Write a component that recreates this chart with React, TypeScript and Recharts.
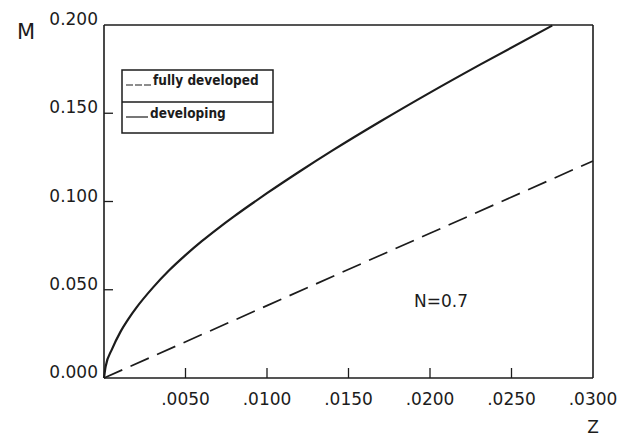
import { LineChart, Line, XAxis, YAxis, ReferenceLine, Customized } from "recharts";

// z / M pairs
const developing = [
  { z: 0, m: 0 },
  { z: 0.0001, m: 0.0065 },
  { z: 0.0005, m: 0.0165 },
  { z: 0.001, m: 0.026 },
  { z: 0.0015, m: 0.0335 },
  { z: 0.002, m: 0.04 },
  { z: 0.003, m: 0.0512 },
  { z: 0.004, m: 0.061 },
  { z: 0.005, m: 0.0696 },
  { z: 0.006, m: 0.0775 },
  { z: 0.007, m: 0.0848 },
  { z: 0.008, m: 0.0917 },
  { z: 0.009, m: 0.0983 },
  { z: 0.01, m: 0.1047 },
  { z: 0.012, m: 0.117 },
  { z: 0.014, m: 0.1288 },
  { z: 0.017, m: 0.1456 },
  { z: 0.02, m: 0.1617 },
  { z: 0.0231, m: 0.1777 },
  { z: 0.0275, m: 0.1997 },
];

const fullyDeveloped = [
  { z: 0, m: 0 },
  { z: 0.01, m: 0.041 },
  { z: 0.02, m: 0.082 },
  { z: 0.03, m: 0.123 },
];

const xTicks = [0.005, 0.01, 0.015, 0.02, 0.025, 0.03];
const yTicks = [0, 0.05, 0.1, 0.15, 0.2];
const legendItems = ["fully developed", "developing"];

const INK = "#1c1c1c";
const FONT = "'DejaVu Sans', sans-serif";

const YTick = ({ x, y, payload }: any) => {
  const v = payload.value;
  const inner = v > 0 && v < 0.2;
  return (
    <g>
      {inner && <line x1={x} x2={x + 9} y1={y} y2={y} stroke={INK} strokeWidth={1.3} />}
      <text x={x - 6} y={y - 5} textAnchor="end" dominantBaseline="middle" fontSize={17} fill={INK} fontFamily={FONT}>
        {v.toFixed(3)}
      </text>
    </g>
  );
};

const XTick = ({ x, y, payload }: any) => {
  const v = payload.value;
  const inner = v < 0.03;
  return (
    <g>
      {inner && <line x1={x} x2={x} y1={y} y2={y - 10} stroke={INK} strokeWidth={1.3} />}
      <text x={x} y={y + 22} textAnchor="middle" dominantBaseline="middle" fontSize={17} fill={INK} fontFamily={FONT}>
        {v.toFixed(4).replace(/^0/, "")}
      </text>
    </g>
  );
};

// legend box + free text labels, drawn in the chart svg
const Overlay = () => (
  <g>
    <rect x={122} y={70} width={151} height={63} fill="#fff" stroke={INK} strokeWidth={1.5} />
    <line x1={122} x2={273} y1={102} y2={102} stroke={INK} strokeWidth={1.5} />
    <line x1={126} x2={152} y1={85} y2={85} stroke={INK} strokeWidth={1.2} strokeDasharray="7 2" />
    <line x1={126} x2={148} y1={117} y2={117} stroke={INK} strokeWidth={1.2} />
    <text x={153} y={81} dominantBaseline="middle" fill={INK} fontSize={13.5} fontWeight="bold" fontFamily="'DejaVu Sans Condensed', sans-serif">
      {legendItems[0]}
    </text>
    <text x={150} y={114} dominantBaseline="middle" fill={INK} fontSize={13.5} fontWeight="bold" fontFamily="'DejaVu Sans Condensed', sans-serif">
      {legendItems[1]}
    </text>
    <text x={26} y={33} textAnchor="middle" dominantBaseline="middle" fill={INK} fontSize={21} fontFamily={FONT}>
      M
    </text>
    <text x={593} y={428} textAnchor="middle" dominantBaseline="middle" fill={INK} fontSize={17} fontFamily={FONT}>
      Z
    </text>
    <text x={441} y={302} textAnchor="middle" dominantBaseline="middle" fill={INK} fontSize={17} fontFamily={FONT}>
      N=0.7
    </text>
  </g>
);

export default function App() {
  return (
    <div style={{ position: "absolute", left: 0, top: 0, background: "#fff" }}>
      <LineChart width={628} height={438} margin={{ top: 25, right: 35, bottom: 30, left: 8 }}>
        <XAxis
          dataKey="z"
          type="number"
          domain={[0, 0.03]}
          ticks={xTicks}
          tick={<XTick />}
          tickLine={false}
          tickSize={0}
          tickMargin={0}
          height={30}
          axisLine={{ stroke: INK, strokeWidth: 1.6 }}
          allowDuplicatedCategory={false}
        />
        <YAxis
          type="number"
          domain={[0, 0.2]}
          ticks={yTicks}
          tick={<YTick />}
          tickLine={false}
          tickSize={0}
          tickMargin={0}
          width={96}
          axisLine={{ stroke: INK, strokeWidth: 1.6 }}
        />
        <ReferenceLine y={0.2} stroke={INK} strokeWidth={1.4} />
        <ReferenceLine x={0.03} stroke={INK} strokeWidth={1.6} />
        <Line
          data={fullyDeveloped}
          dataKey="m"
          name="fully developed"
          type="linear"
          stroke={INK}
          strokeWidth={1.7}
          strokeDasharray="20 9"
          dot={false}
          isAnimationActive={false}
        />
        <Line
          data={developing}
          dataKey="m"
          name="developing"
          type="monotone"
          stroke={INK}
          strokeWidth={2.2}
          dot={false}
          isAnimationActive={false}
        />
        <Customized component={<Overlay />} />
      </LineChart>
    </div>
  );
}
